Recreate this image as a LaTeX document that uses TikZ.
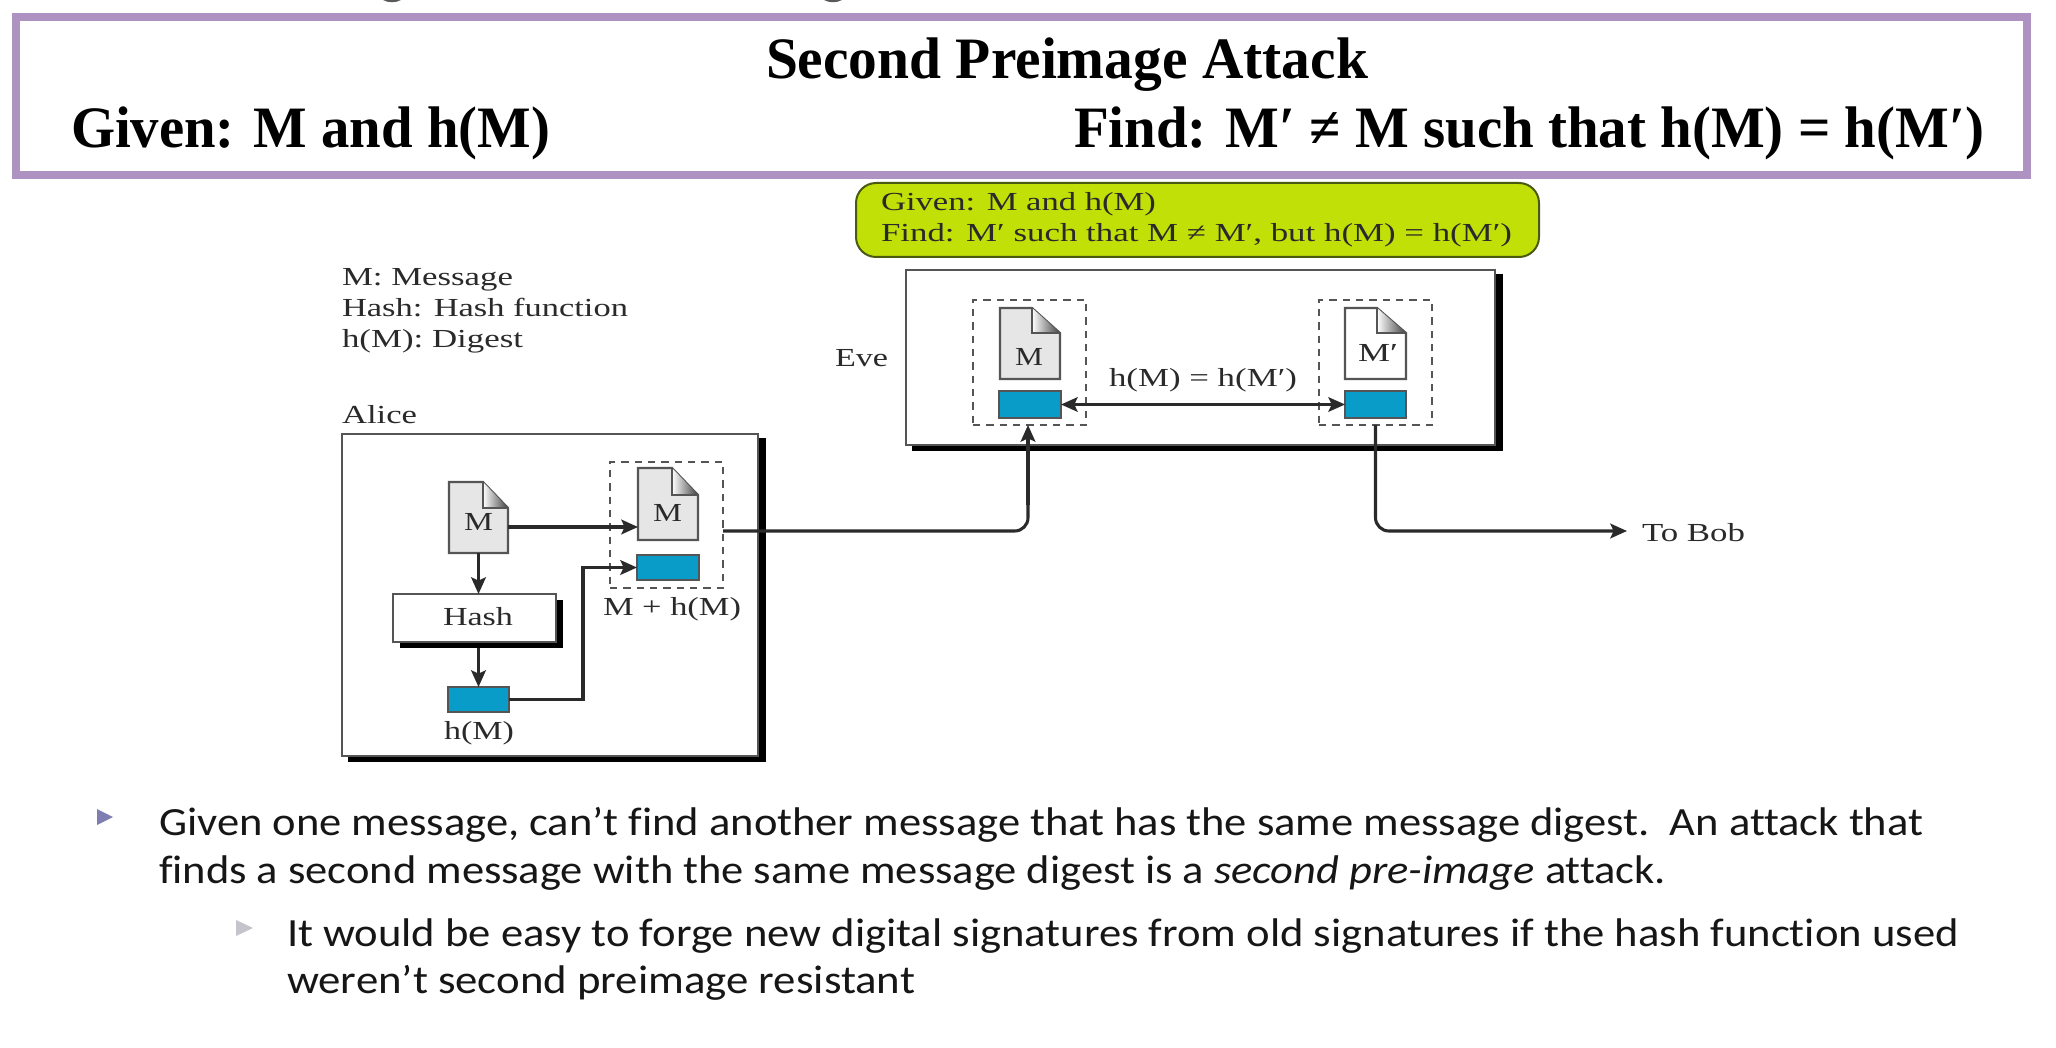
\documentclass[tikz,border=0pt]{standalone}
\usepackage{fontspec}
\usepackage{graphicx}
\setmainfont{Liberation Serif}
\newfontfamily\bodyfont[Ligatures=NoCommon]{Carlito}
\usetikzlibrary{arrows.meta}
\definecolor{framepurple}{HTML}{AE92C2}
\definecolor{limegreen}{HTML}{C0E008}
\definecolor{limeedge}{HTML}{4A5A10}
\definecolor{digestblue}{HTML}{0A9CC8}
\definecolor{docgray}{HTML}{E6E6E6}
\definecolor{ink}{HTML}{2A2A2A}
\definecolor{bodyink}{HTML}{161616}
\definecolor{edgegray}{HTML}{555555}
\definecolor{bulletA}{HTML}{7E7EB2}
\definecolor{bulletB}{HTML}{C4C4CC}
\tikzset{
  boxbase/.style={inner sep=0pt,outer sep=0pt},
  actorbox/.style={boxbase,draw=edgegray,fill=white,line width=1.9pt},
  shadowbox/.style={boxbase,fill=black},
  dashbox/.style={boxbase,draw=edgegray,dashed,dash pattern=on 5.5pt off 4.5pt,line width=1.7pt},
  digest/.style={boxbase,draw=edgegray,fill=digestblue,line width=1.1pt},
  docframe/.style={draw=edgegray,line width=1.6pt,line join=miter},
  conn/.style={draw=ink,line width=2.3pt},
  tip/.style={-{Stealth[length=12.5pt,width=11pt,inset=2.5pt]}},
  bothtips/.style={{Stealth[length=12.5pt,width=11pt,inset=2.5pt]}-{Stealth[length=12.5pt,width=11pt,inset=2.5pt]}},
}
% name, x1, y1, x2, y2, style
\newcommand{\pxbox}[6]{%
  \pgfmathsetlengthmacro\bw{(#4-#2)*0.75pt}%
  \pgfmathsetlengthmacro\bh{(#5-#3)*0.75pt}%
  \node[#6,minimum width=\bw,minimum height=\bh,anchor=north west] (#1) at (#2,#3) {};}
% name, left x, baseline y, width px, font, text
\newcommand{\pxtext}[6]{%
  \pgfmathsetlengthmacro\tw{#4*0.75pt}%
  \node[inner sep=0pt,outer sep=0pt,anchor=base west,text=#5] (#1) at (#2,#3) {\resizebox{\tw}{\height}{#6}};}
% name, x1,y1,x2,y2, foldx, foldy, fill
\newcommand{\pxdoc}[8]{%
  \pxbox{#1}{#2}{#3}{#4}{#5}{boxbase}
  \path[fill=#8,docframe] (#2,#3) -- (#6,#3) -- (#4,#7) -- (#4,#5) -- (#2,#5) -- cycle;
  \shade[left color=white,right color=black!75] (#6,#3) -- (#6,#7) -- (#4,#7) -- cycle;
  \draw[docframe,line width=1pt] (#6,#3) -- (#6,#7) -- (#4,#7);}
\newcommand{\diag}{\fontsize{19.5pt}{19.5pt}\selectfont}
\newcommand{\head}{\fontsize{44pt}{44pt}\selectfont\bfseries}
\newcommand{\bodytxt}{\bodyfont\fontsize{30pt}{30pt}\selectfont}
\begin{document}
\begin{tikzpicture}[x=0.75pt,y=-0.75pt]
\useasboundingbox (0,0) rectangle (2056,1048);
\fill[white] (0,0) rectangle (2056,1048);

% cut-off traces at the top edge
\fill[black!65] (383,0) .. controls (388,3) and (396,3) .. (401,0) -- cycle;
\fill[black!65] (824,0) .. controls (829,3) and (837,3) .. (842,0) -- cycle;

% header frame
\pxbox{frame}{16}{17}{2027}{175}{boxbase,draw=framepurple,fill=white,line width=6pt}
\pxtext{ttitle}{766}{79}{602}{black}{\head Second Preimage Attack}
\pxtext{tgiven}{71}{148}{479}{black}{\head Given: M and h(M)}
\pxtext{tfind}{1074}{148}{910}{black}{\head Find: M′ ≠ M such that h(M) = h(M′)}

% green note
\pxbox{note}{856}{183}{1539}{257}{boxbase,draw=limeedge,fill=limegreen,line width=1.5pt,rounded corners=15pt}
\pxtext{ngiven}{881}{211}{275}{ink}{\diag Given: M and h(M)}
\pxtext{nfind}{881}{242}{631}{ink}{\diag Find: M′ such that M ≠ M′, but h(M) = h(M′)}

% legend
\pxtext{lega}{342}{286}{171}{ink}{\diag M: Message}
\pxtext{legb}{342}{317}{286}{ink}{\diag Hash: Hash function}
\pxtext{legc}{342}{348}{181}{ink}{\diag h(M): Digest}

% Alice
\pxtext{alabel}{342}{423}{75}{ink}{\diag Alice}
\pxbox{aliceshadow}{348}{438}{766}{762}{shadowbox}
\pxbox{alice}{342}{434}{758}{756}{actorbox}
\pxdoc{mone}{449}{482}{508}{553}{483}{508}{docgray}
\pxtext{monetxt}{464}{530}{29}{ink}{\diag M}
\pxbox{bundle}{610}{462}{723}{588}{dashbox}
\pxdoc{mtwo}{638}{468}{698}{540}{672}{495}{docgray}
\pxtext{mtwotxt}{653}{521}{29}{ink}{\diag M}
\pxbox{dtwo}{637}{555}{699}{580}{digest}
\pxtext{bundlelbl}{603}{615}{138}{ink}{\diag M + h(M)}
\pxbox{hashshadow}{400}{600}{563}{648}{shadowbox}
\pxbox{hash}{393}{594}{556}{642}{boxbase,draw=edgegray,fill=white,line width=1.5pt}
\pxtext{hashtxt}{443}{625}{70}{ink}{\diag Hash}
\pxbox{done}{448}{687}{509}{712}{digest}
\pxtext{donetxt}{444}{739}{70}{ink}{\diag h(M)}
\draw[conn,tip] (mone.east |- 0,527) -- (mtwo.west |- 0,527);
\draw[conn,tip] (mone.south) -- (hash.north -| mone.south);
\draw[conn,tip] (hashshadow.south -| done.north) -- (done.north);
\draw[conn,tip] (done.east) -- (583,699.5) -- (583,567.5) -- (dtwo.west);

% Eve
\pxtext{elabel}{835}{367}{53}{ink}{\diag Eve}
\pxbox{eveshadow}{912}{274}{1503}{451}{shadowbox}
\pxbox{eve}{906}{270}{1495}{445}{actorbox}
\pxbox{bundlea}{973}{300}{1086}{425}{dashbox}
\pxdoc{ma}{1000}{308}{1060}{379}{1032}{333}{docgray}
\pxtext{matxt}{1015}{366}{28}{ink}{\diag M}
\pxbox{da}{999}{391}{1061}{418}{digest}
\pxbox{bundleb}{1319}{300}{1432}{425}{dashbox}
\pxdoc{mb}{1345}{308}{1406}{379}{1377}{333}{white}
\pxtext{mbtxt}{1358}{362}{40}{ink}{\diag M′}
\pxbox{db}{1345}{391}{1406}{418}{digest}
\pxtext{eqtxt}{1109}{387}{188}{ink}{\diag h(M) = h(M′)}
\draw[conn,line width=1.7pt,bothtips] (da.east) -- (db.west);

% wires between
\coordinate (bobtip) at (1627,531);
\pxtext{bob}{1642}{541}{103}{ink}{\diag To Bob}
\draw[conn,rounded corners=10pt] (bundle.east |- 0,531) -- (1028,531) -- (1028,500);
\draw[conn,tip] (1028,505) -- (bundlea.south -| 1028,0);
\draw[conn,rounded corners=10pt,tip] (bundleb.south) -- (1375.5,531) -- (bobtip);

% bullets
\fill[bulletA] (97,809) -- (113,817) -- (97,825) -- cycle;
\pxtext{bia}{159}{835}{1764}{bodyink}{\bodytxt Given one message, can’t find another message that has the same message digest.~~An attack that}
\pxtext{bib}{159}{883}{1507}{bodyink}{\bodytxt finds a second message with the same message digest is a \itshape second pre-image\upshape{} attack.}
\fill[bulletB] (236,920) -- (253,928) -- (236,936) -- cycle;
\pxtext{bic}{287}{946}{1672}{bodyink}{\bodytxt It would be easy to forge new digital signatures from old signatures if the hash function used}
\pxtext{bid}{287}{993}{628}{bodyink}{\bodytxt weren’t second preimage resistant}
\end{tikzpicture}
\end{document}
